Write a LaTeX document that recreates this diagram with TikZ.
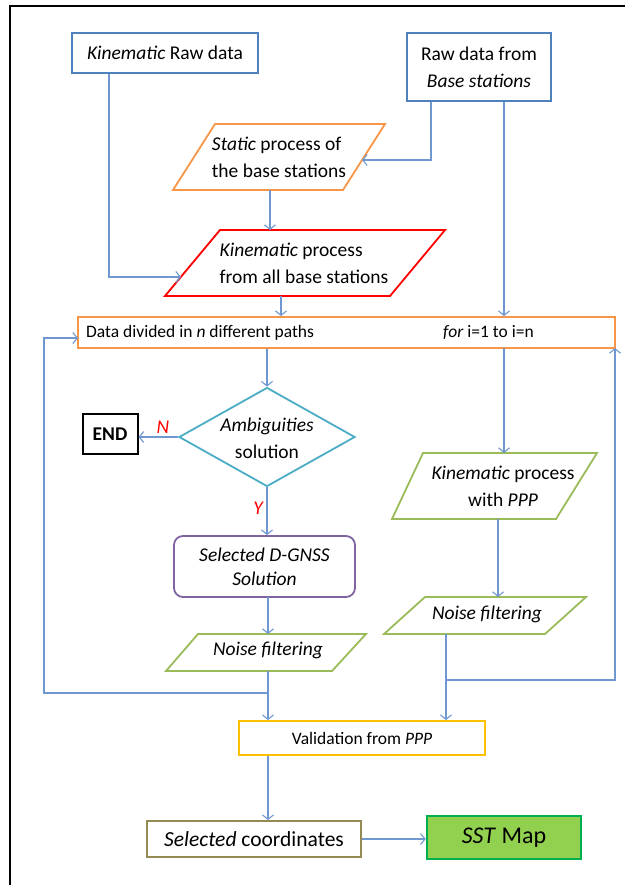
\documentclass[tikz,border=0pt]{standalone}
\usepackage{fontspec}
\setmainfont{Carlito}
\usetikzlibrary{arrows.meta,shapes.geometric,calc}
\definecolor{bblue}{HTML}{4F81BD}
\definecolor{arr}{HTML}{6F98D2}
\definecolor{orng}{HTML}{F79646}
\definecolor{tealc}{HTML}{4BACC6}
\definecolor{purp}{HTML}{8064A2}
\definecolor{gpara}{HTML}{9BBB59}
\definecolor{yel}{HTML}{FFC000}
\definecolor{olivec}{HTML}{948A54}
\definecolor{sstfill}{HTML}{92D050}
\definecolor{sstline}{HTML}{00B050}
\newcommand{\mainf}{\fontsize{19.5}{27}\selectfont}
\newcommand{\smallf}{\fontsize{17.5}{21}\selectfont}
\begin{document}
\begin{tikzpicture}[x=1pt,y=-1pt,
 box/.style={draw,line width=1.8pt,inner sep=0pt,font=\mainf},
 para/.style={line width=1.8pt,line join=miter},
 txt/.style={inner sep=0pt,font=\mainf},
 conn/.style={draw=arr,line width=1.1pt,-{Straight Barb[length=4.5pt,width=11pt]}},
 lbl/.style={text=red,font=\mainf\itshape,inner sep=0pt}]
\useasboundingbox (0,0) rectangle (625,885);
\draw[line width=2pt] (10,885) -- (10,6) -- (625,6);

% top boxes
\node[box,draw=bblue,minimum width=186pt,minimum height=40pt] (raw1) at (165,53) {\textit{Kinematic} Raw data};
\node[box,draw=bblue,minimum width=144pt,minimum height=68pt,align=center] (raw2) at (479,67) {Raw data from\\\textit{Base stations}};

% static parallelogram
\coordinate (st1) at (215,124); \coordinate (st2) at (385,124);
\coordinate (st3) at (343,190); \coordinate (st4) at (173,190);
\draw[para,draw=orng] (st1) -- (st2) -- (st3) -- (st4) -- cycle;
\node[txt,align=left] (static) at (279,157) {\textit{Static} process of\\the base stations};

% kinematic parallelogram
\coordinate (kn1) at (220,230); \coordinate (kn2) at (445,230);
\coordinate (kn3) at (390,296); \coordinate (kn4) at (165,296);
\draw[para,draw=red] (kn1) -- (kn2) -- (kn3) -- (kn4) -- cycle;
\node[txt,align=left] (kin) at (304,263) {\textit{Kinematic} process\\from all base stations};

% divide box
\node[box,draw=orng,minimum width=537pt,minimum height=31pt] (div) at (346.5,332.5) {};
\node[txt,font=\smallf,anchor=west] (divl) at (86,333) {Data divided in \textit{n} different paths};
\node[txt,font=\smallf,anchor=west] (divr) at (443,333) {\textit{for} i=1 to i=n};

% diamond
\node[draw=tealc,line width=1.8pt,diamond,minimum width=176pt,minimum height=99pt,inner sep=0pt] (amb) at (267,437) {};
\node[txt,align=center] (ambt) at (267,438) {\textit{Ambiguities}\\solution};

\node[box,draw=black,line width=2pt,minimum width=55pt,minimum height=40pt,font=\mainf\bfseries] (end) at (110,434) {END};
\node[lbl] (nl) at (163,427) {N};
\node[lbl] (yl) at (258,508) {Y};

% D-GNSS
\node[box,draw=purp,rounded corners=9pt,minimum width=181pt,minimum height=61pt,align=center,font=\itshape\fontsize{19.5}{24}\selectfont] (dg) at (264.5,566.5) {Selected D-GNSS\\Solution};

% kinematic PPP
\coordinate (kp1) at (423,453); \coordinate (kp2) at (597,453);
\coordinate (kp3) at (556,519); \coordinate (kp4) at (392,519);
\draw[para,draw=gpara] (kp1) -- (kp2) -- (kp3) -- (kp4) -- cycle;
\node[txt,align=center] (kpt) at (503,486) {\textit{Kinematic} process\\with \textit{PPP}};

% noise right
\coordinate (nr1) at (425,597); \coordinate (nr2) at (586,597);
\coordinate (nr3) at (545,634); \coordinate (nr4) at (384,634);
\draw[para,draw=gpara] (nr1) -- (nr2) -- (nr3) -- (nr4) -- cycle;
\node[txt] (nrt) at (487,614) {\textit{Noise filtering}};

% noise left
\coordinate (nl1) at (198,634); \coordinate (nl2) at (366,634);
\coordinate (nl3) at (332,671); \coordinate (nl4) at (166,671);
\draw[para,draw=gpara] (nl1) -- (nl2) -- (nl3) -- (nl4) -- cycle;
\node[txt] (nlt) at (268,650) {\textit{Noise filtering}};

% bottom boxes
\node[box,draw=yel,minimum width=246pt,minimum height=34pt,font=\smallf] (valid) at (362,738) {Validation from \textit{PPP}};
\node[box,draw=olivec,minimum width=214pt,minimum height=36pt,font=\fontsize{21.5}{26}\selectfont] (selc) at (254,839) {\textit{Selected} coordinates};
\node[box,draw=sstline,fill=sstfill,line width=2.5pt,minimum width=154pt,minimum height=43pt,font=\fontsize{24}{28}\selectfont] (sst) at (504,837.5) {\textit{SST} Map};

% connector points
\coordinate (kinl) at (181,277);
\coordinate (statr) at (362,160);
\coordinate (statb) at (270,190);
\coordinate (kint) at (270,230);
\coordinate (kinb) at (281,296);
\coordinate (dgb) at (268,597);
\coordinate (nlt0) at (268,634);
\coordinate (nlb) at (268,671);
\coordinate (lj) at (268,693);
\coordinate (lc) at (44,693);
\coordinate (dvl) at (78,338);
\coordinate (dvr) at (504,348);
\coordinate (kptop) at (504,453);
\coordinate (kpb) at (498,519);
\coordinate (nrtop) at (498,597);
\coordinate (nrb) at (446,634);
\coordinate (rj) at (446,680);
\coordinate (rc) at (615,680);
\coordinate (dvb) at (615,348);

% connectors
\draw[conn] ([xshift=-56pt]raw1.south) |- (kinl);
\draw[conn] ([xshift=-48pt]raw2.south) |- (statr);
\draw[conn] ([xshift=25pt]raw2.south) -- (dvr |- div.north);
\draw[conn] (statb) -- (kint);
\draw[conn] (kinb) -- (kinb |- div.north);
\draw[conn] (amb.north |- div.south) -- (amb.north);
\draw[conn] (amb.west) -- (amb.west -| end.east);
\draw[conn] (amb.south) -- (amb.south |- dg.north);
\draw[conn] (dgb) -- (nlt0);
\draw[conn] (nlb) -- (nlb |- valid.north);
\draw[conn] (lj) -- (lc) |- (dvl);
\draw[conn] (dvr) -- (kptop);
\draw[conn] (kpb) -- (nrtop);
\draw[conn] (nrb) -- (nrb |- valid.north);
\draw[conn] (rj) -- (rc) -- (dvb);
\draw[conn] (valid.south -| nlb) -- (selc.north -| nlb);
\draw[conn] (selc.east) -- (selc.east -| sst.west);
\end{tikzpicture}
\end{document}
